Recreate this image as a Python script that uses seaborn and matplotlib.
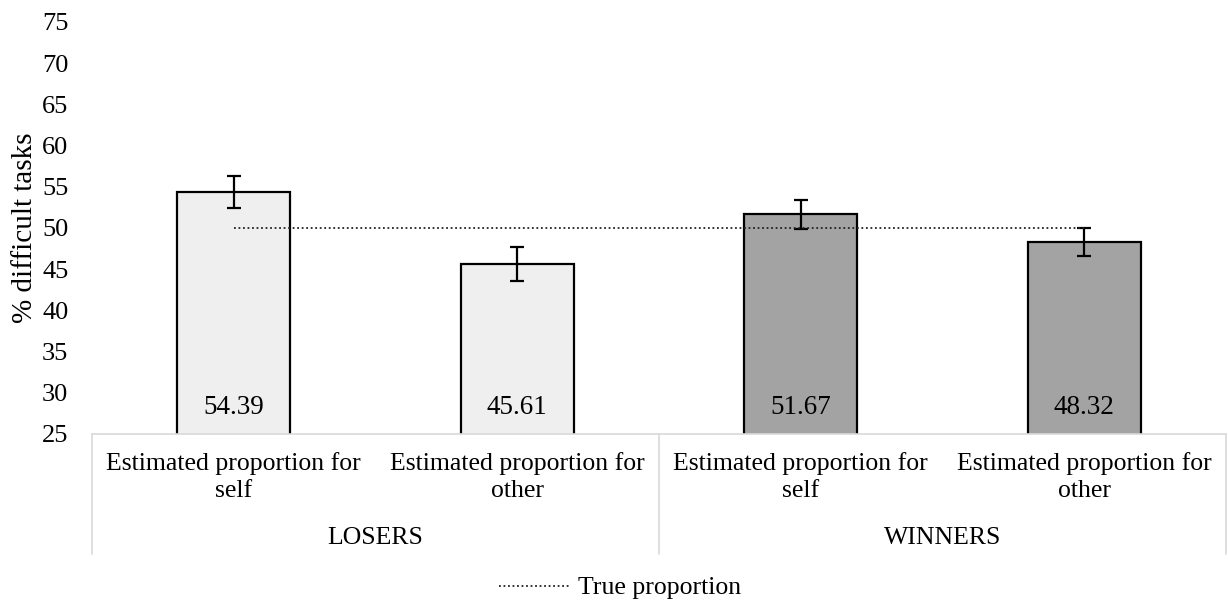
import numpy as np
import pandas as pd
import matplotlib
matplotlib.use("Agg")
import matplotlib.pyplot as plt
import matplotlib.transforms as mtransforms
import seaborn as sns

# values
groups = ["LOSERS", "LOSERS", "WINNERS", "WINNERS"]
conditions = ["LOSERS self", "LOSERS other", "WINNERS self", "WINNERS other"]
tick_labels = ["Estimated proportion for\nself", "Estimated proportion for\nother",
               "Estimated proportion for\nself", "Estimated proportion for\nother"]
pct_difficult = [54.39, 45.61, 51.67, 48.32]
err_half = [1.95, 2.05, 1.75, 1.70]
true_prop = [50, 50, 50, 50]
group_names = ["LOSERS", "WINNERS"]

sns.set_theme(style="white")
plt.rcParams["font.family"] = ["Liberation Serif", "DejaVu Serif"]
plt.rcParams["text.color"] = "black"
plt.rcParams["xtick.color"] = "black"
plt.rcParams["ytick.color"] = "black"
plt.rcParams["axes.labelcolor"] = "black"

df = pd.DataFrame({"condition": conditions, "pct": pct_difficult, "group": groups})

fig = plt.figure(figsize=(12.28, 6.05), dpi=100)
ax = fig.add_axes([92 / 1228, (605 - 434) / 605, (1226 - 92) / 1228, (434 - 22) / 605])

sns.barplot(data=df, x="condition", y="pct", hue="group", order=conditions,
            palette={"LOSERS": "#efefef", "WINNERS": "#a3a3a3"}, dodge=False,
            width=0.4, edgecolor="black", linewidth=1.6, legend=False, ax=ax)

pos = np.arange(len(conditions))
ax.errorbar(pos, pct_difficult, yerr=err_half, fmt="none", ecolor="black",
            elinewidth=1.6, capsize=4.7, capthick=1.6, zorder=4)

line, = ax.plot(pos, true_prop, color="#222222", lw=1.3, ls=(0, (1, 1.5)),
                zorder=5, label="True proportion")

for x, v in zip(pos, pct_difficult):
    ax.text(x, 28.2, f"{v:.2f}", ha="center", va="center", fontsize=19.5, zorder=6)

ax.set_ylim(25, 75)
ax.set_xlim(-0.5, len(conditions) - 0.5)
ax.set_yticks(range(25, 80, 5))
ax.tick_params(axis="y", length=0, pad=17, labelsize=19)
ax.set_xticks(pos)
ax.set_xticklabels(tick_labels, fontsize=18.5, linespacing=1.3)
ax.tick_params(axis="x", length=0, pad=13)
ax.set_xlabel("")
ax.set_ylabel("% difficult tasks", fontsize=21)
ax.yaxis.set_label_coords(-0.048, 0.5)

for side in ["top", "right", "left"]:
    ax.spines[side].set_visible(False)
ax.spines["bottom"].set_color("#d9d9d9")
ax.spines["bottom"].set_linewidth(1.2)

# multi-level category box below the axis
trans = mtransforms.blended_transform_factory(ax.transData, ax.transAxes)
bottom_y = (434 - 554) / 412
for xb in [-0.5, 1.5, 3.5]:
    ax.plot([xb, xb], [0, bottom_y], color="#d9d9d9", lw=1.2, transform=trans, clip_on=False)
for i, g in enumerate(group_names):
    ax.text(2 * i + 0.5, (434 - 538) / 412, g, transform=trans, ha="center",
            va="center", fontsize=18.5)

fig.legend(handles=[line], loc="center", bbox_to_anchor=(0.505, 1 - 588 / 605),
           frameon=False, fontsize=18.5, handlelength=2.8, handletextpad=0.3)

plt.savefig("out.png", dpi=100)
plt.close(fig)
